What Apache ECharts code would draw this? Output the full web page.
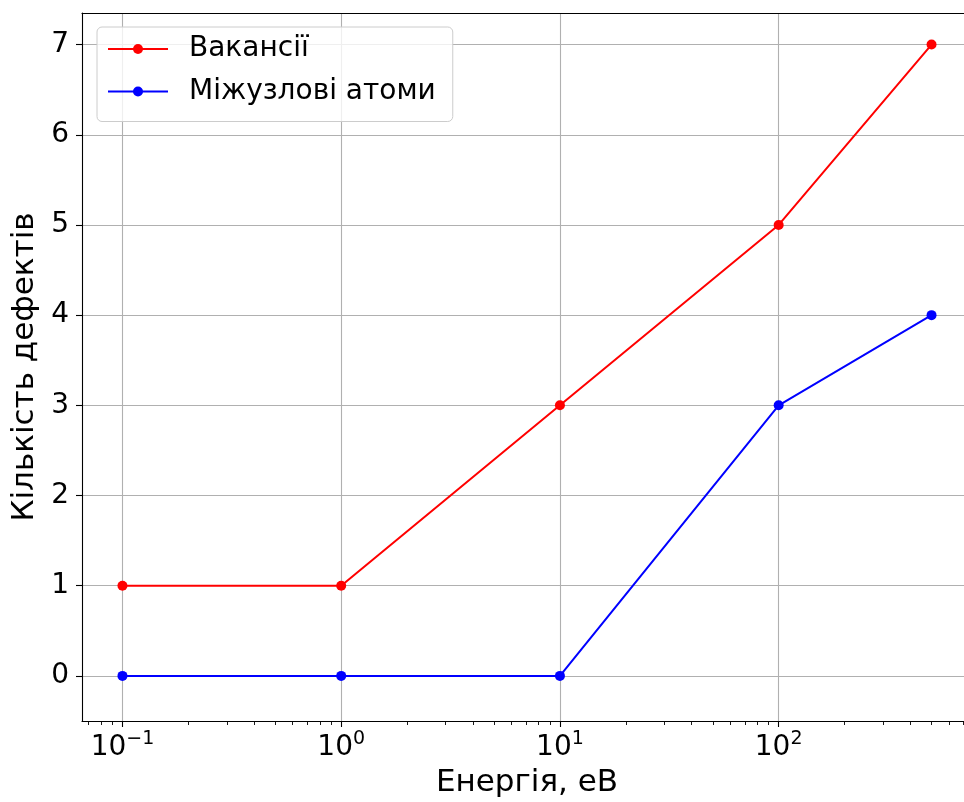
<!DOCTYPE html>
<html>
<head>
<meta charset="utf-8">
<script src="https://cdn.jsdelivr.net/npm/echarts@6/dist/echarts.min.js"></script>
<style>
html,body{margin:0;padding:0;background:#fff;}
#chart{width:964px;height:802px;}
</style>
</head>
<body>
<div id="chart"></div>
<script>
// Data
var energies = [0.1, 1, 10, 100, 500];
var vacancies = [1, 1, 3, 5, 7];
var interstitials = [0, 0, 0, 3, 4];
var seriesNames = ['Вакансії', 'Міжузлові атоми'];
var xMajorTicks = [0.1, 1, 10, 100];
var xMinorTicks = [0.07, 0.08, 0.09, 0.2, 0.3, 0.4, 0.5, 0.6, 0.7, 0.8, 0.9,
  2, 3, 4, 5, 6, 7, 8, 9, 20, 30, 40, 50, 60, 70, 80, 90,
  200, 300, 400, 500, 600, 700];
var yTicks = [0, 1, 2, 3, 4, 5, 6, 7];
var xTitle = 'Енергія, еВ';
var yTitle = 'Кількість дефектів';

var FONT = 'DejaVu Sans';
var logMin = Math.log10(energies[0]), logMax = Math.log10(energies[energies.length - 1]);
var pad = (logMax - logMin) * 0.05;
var xMin = Math.pow(10, logMin - pad), xMax = Math.pow(10, logMax + pad);
var yMin = -0.5, yMax = 7.35;

function pairs(xs, ys) { return xs.map(function (x, i) { return [x, ys[i]]; }); }

var chart = echarts.init(document.getElementById('chart'), null, {renderer: 'canvas'});
chart.setOption({
  animation: false,
  backgroundColor: '#fff',
  grid: {left: 82, top: 13, right: -8, bottom: 81, containLabel: false, outerBoundsMode: 'none'},
  legend: {
    orient: 'vertical', left: 97, top: 27,
    padding: [8, 17, 16, 10],
    itemWidth: 60, itemHeight: 12.5, itemGap: 14.5,
    backgroundColor: 'rgba(255,255,255,0.8)',
    borderColor: '#cccccc', borderWidth: 1, borderRadius: 5,
    textStyle: {fontFamily: FONT, fontSize: 28, color: '#000', lineHeight: 28, padding: [0, 0, 0, 16]},
    data: seriesNames
  },
  xAxis: [{
    type: 'log', min: xMin, max: xMax, logBase: 10,
    name: xTitle, nameLocation: 'middle', nameGap: 46,
    nameTextStyle: {fontFamily: FONT, fontSize: 31, color: '#000'},
    axisLine: {show: true, onZero: false, lineStyle: {color: '#000', width: 1.1}},
    axisTick: {show: true, inside: false, length: 6, customValues: xMajorTicks, lineStyle: {color: '#000', width: 1.1}},
    axisLabel: {
      show: true, margin: 9, customValues: xMajorTicks,
      formatter: function (v) {
        var e = Math.round(Math.log10(v));
        var s = e < 0 ? '\u2212' + (-e) : String(e);
        return '{b|10}{s|' + s + '}';
      },
      rich: {
        b: {fontFamily: FONT, fontSize: 28, color: '#000', lineHeight: 32, verticalAlign: 'bottom'},
        s: {fontFamily: FONT, fontSize: 19, color: '#000', lineHeight: 19, verticalAlign: 'top'}
      }
    },
    splitLine: {show: true, lineStyle: {color: '#b0b0b0', width: 1.1}}
  }, {
    type: 'log', min: xMin, max: xMax, logBase: 10, position: 'bottom',
    axisLine: {show: false, onZero: false},
    axisTick: {show: true, inside: false, length: 4, customValues: xMinorTicks, lineStyle: {color: '#000', width: 0.9}},
    axisLabel: {show: false},
    splitLine: {show: false}
  }, {
    type: 'log', min: xMin, max: xMax, logBase: 10, position: 'top',
    axisLine: {show: true, onZero: false, lineStyle: {color: '#000', width: 1.1}},
    axisTick: {show: false}, axisLabel: {show: false}, splitLine: {show: false}
  }],
  yAxis: {
    type: 'value', min: yMin, max: yMax,
    name: yTitle, nameLocation: 'middle', nameGap: 42,
    nameTextStyle: {fontFamily: FONT, fontSize: 31, color: '#000'},
    axisLine: {show: true, onZero: false, lineStyle: {color: '#000', width: 1.1}},
    axisTick: {show: true, inside: false, length: 6, customValues: yTicks, lineStyle: {color: '#000', width: 1.1}},
    axisLabel: {show: true, margin: 13, customValues: yTicks, fontFamily: FONT, fontSize: 28, color: '#000'},
    splitLine: {show: true, lineStyle: {color: '#b0b0b0', width: 1.1}}
  },
  series: [{
    name: seriesNames[0], type: 'line', xAxisIndex: 0,
    data: pairs(energies, vacancies),
    symbol: 'circle', symbolSize: 10, showSymbol: true,
    lineStyle: {color: '#ff0000', width: 2}, itemStyle: {color: '#ff0000'},
    emphasis: {disabled: true}, z: 3
  }, {
    name: seriesNames[1], type: 'line', xAxisIndex: 0,
    data: pairs(energies, interstitials),
    symbol: 'circle', symbolSize: 10, showSymbol: true,
    lineStyle: {color: '#0000ff', width: 2}, itemStyle: {color: '#0000ff'},
    emphasis: {disabled: true}, z: 4
  }]
});
</script>
</body>
</html>
